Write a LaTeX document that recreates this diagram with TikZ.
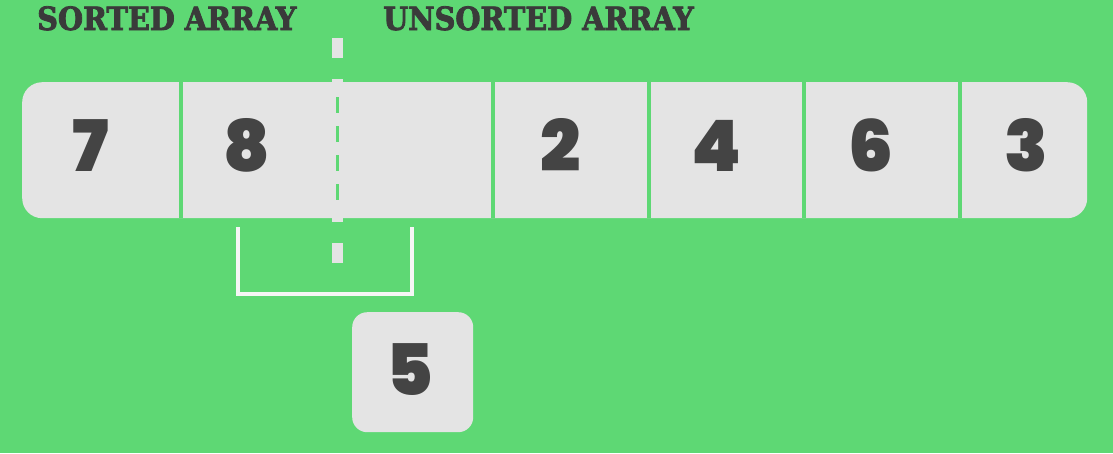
\documentclass[tikz,border=0pt]{standalone}
\usepackage{fontspec}
\newfontfamily\digitfont{Poppins Black}
\newfontfamily\headfont{DejaVu Serif Condensed Bold}[FakeBold=2.5]
\definecolor{bggreen}{RGB}{94,216,116}
\definecolor{cellgray}{RGB}{228,228,228}
\definecolor{digitgray}{RGB}{68,68,68}
\definecolor{headgray}{RGB}{58,58,58}
\definecolor{bracketwhite}{RGB}{246,246,246}
\tikzset{
  digit/.style={anchor=base, inner sep=0pt, text=digitgray, font=\digitfont\fontsize{71}{71}\selectfont},
  head/.style={anchor=base west, inner sep=0pt, text=headgray, font=\headfont\fontsize{32}{32}\selectfont},
  divider/.style={draw=bggreen, line width=4pt},
  cellbox/.style={fill=cellgray, rounded corners=20pt, draw=none},
}
\begin{document}
\begin{tikzpicture}[x=1pt,y=-1pt]
\useasboundingbox (0,0) rectangle (1113,453);
\fill[bggreen] (0,0) rectangle (1113,453);
% headers
\node[head] (sorted) at (37,30) {SORTED ARRAY};
\node[head] (unsorted) at (383,30) {UNSORTED ARRAY};
% array
\node[cellbox, minimum width=1065pt, minimum height=136pt, anchor=north west] (arr) at (22,82) {};
\foreach \x in {181,493,649,804,960}{
  \draw[divider] (\x,82) -- (\x,218);
}
% dashed separator
\coordinate (septop) at (337,38);
\coordinate (sepbot) at (337,265);
\draw[cellgray, line width=11pt, dash pattern=on 20pt off 21pt] (septop) -- (sepbot);
\coordinate (gtop) at (337,97);
\coordinate (gbot) at (337,200);
\draw[bggreen, line width=3pt, dash pattern=on 16pt off 13pt] (gtop) -- (gbot);
% digits
\node[digit] (d7) at (91,171) {7};
\node[digit] (d8) at (247,171) {8};
\node[digit] (d2) at (561,171) {2};
\node[digit] (d4) at (716,171) {4};
\node[digit] (d6) at (871,171) {6};
\node[digit] (d3) at (1026,171) {3};
% bracket
\coordinate (bl) at (238,227);
\coordinate (br) at (412,227);
\draw[bracketwhite, line width=4pt, line join=miter] (bl) -- (238,294) -- (412,294) -- (br);
% key box
\node[cellbox, rounded corners=15pt, minimum width=121pt, minimum height=120pt, anchor=north west] (keybox) at (352,312) {};
\node[digit] (d5) at (410,395) {5};
\end{tikzpicture}
\end{document}
